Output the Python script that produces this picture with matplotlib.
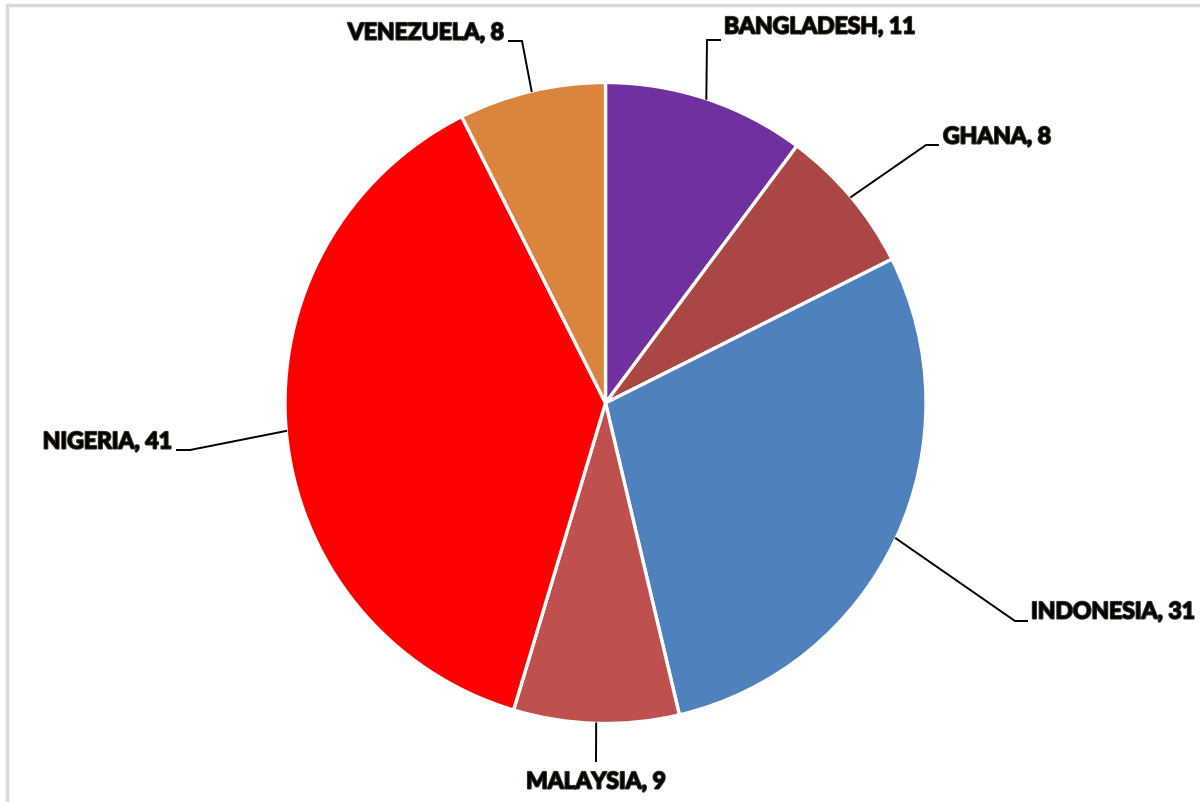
import numpy as np
import matplotlib
matplotlib.use("Agg")
import matplotlib.pyplot as plt
import matplotlib.patheffects as pe
from matplotlib.patches import Rectangle

countries = ["BANGLADESH", "GHANA", "INDONESIA", "MALAYSIA", "NIGERIA", "VENEZUELA"]
values = [11, 8, 31, 9, 41, 8]
colors = ["#7030A0", "#AA4643", "#4F81BD", "#C0504D", "#FF0000", "#DB843D"]
explode = [0, 0, 0.018, 0, 0, 0]

W, H = 1200, 803
fig = plt.figure(figsize=(W / 100, H / 100), dpi=100)
ax = fig.add_axes([0, 0, 1, 1])

cx, cy, R = 605.5, H - 404, 320.5
wedges, _ = ax.pie(values, colors=colors, startangle=90, counterclock=False,
                   explode=explode, center=(cx, cy), radius=R,
                   wedgeprops=dict(edgecolor="white", linewidth=2.4), frame=True)
ax.set_xlim(0, W)
ax.set_ylim(0, H)
ax.set_aspect("equal")
ax.axis("off")

# border (left and top visible)
ax.add_patch(Rectangle((7, -10), W + 10, H - 6 + 10 - 7 + 7, fill=False,
                       edgecolor="#d9d9d9", linewidth=2.5, zorder=0))

# label layout: elbow, horizontal end, text anchor (pixel coords, y from top)
layout = {
    "VENEZUELA": dict(elbow=(522, 42), hend=(509, 42), text=(504, 34), ha="right"),
    "BANGLADESH": dict(elbow=(707, 41), hend=(720, 41), text=(724, 28), ha="left"),
    "GHANA": dict(elbow=(926, 146), hend=(938, 146), text=(943, 138), ha="left"),
    "INDONESIA": dict(elbow=(1015, 622), hend=(1027, 622), text=(1031, 613), ha="left"),
    "MALAYSIA": dict(elbow=(596, 762), hend=(596, 762), text=(596, 783), ha="center"),
    "NIGERIA": dict(elbow=(190, 451), hend=(177, 451), text=(172, 443), ha="right"),
}

total = sum(values)
cum = 0
fx = lambda p: (p[0], H - p[1])
for name, v, w in zip(countries, values, wedges):
    mid = 90 - (cum + v / 2) / total * 360
    cum += v
    ox, oy = w.center
    ex = ox + R * np.cos(np.radians(mid))
    ey = oy + R * np.sin(np.radians(mid))
    L = layout[name]
    e = fx(L["elbow"]); h = fx(L["hend"]); t = fx(L["text"])
    ax.plot([ex, e[0], h[0]], [ey, e[1], h[1]], color="black", lw=1.4,
            solid_joinstyle="miter", zorder=3)
    ax.text(t[0], t[1], f"{name}, {v}", ha=L["ha"], va="center",
            fontsize=16.5, fontweight="bold", family=["Lato", "DejaVu Sans"],
            color="black",
            path_effects=[pe.withStroke(linewidth=1.5, foreground="#3b3424")],
            zorder=4)

fig.savefig("out.png", dpi=100, facecolor="white")
